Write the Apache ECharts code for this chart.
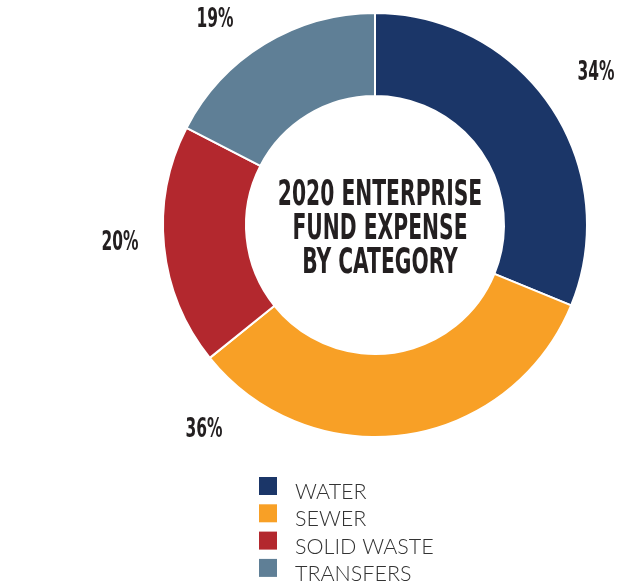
<!DOCTYPE html>
<html>
<head>
<meta charset="utf-8">
<script src="https://cdn.jsdelivr.net/npm/echarts@6/dist/echarts.min.js"></script>
<style>
  html, body { margin: 0; padding: 0; background: #ffffff; }
  #chart { width: 625px; height: 582px; }
</style>
</head>
<body>
<div id="chart"></div>
<script>
// Expense categories and their shares (percent)
const categories = ['WATER', 'SEWER', 'SOLID WASTE', 'TRANSFERS'];
const shares = [34, 36, 20, 19];
const colors = ['#1b3668', '#f8a026', '#b3282e', '#5f7f96'];

// Where each percent label sits around the ring
const labelSpots = [[596, 73], [204, 430], [120, 243], [215, 20]];

const titleLines = ['2020 ENTERPRISE', 'FUND EXPENSE', 'BY CATEGORY'];

const chart = echarts.init(document.getElementById('chart'), null, { renderer: 'canvas' });

const condensed = '"DejaVu Sans Condensed", "Liberation Sans Narrow", sans-serif';
const ink = '#231f20';

// Tall, narrow lettering: condensed bold squeezed horizontally
const squeezedText = (text, x, y, size, sx) => ({
  type: 'text',
  x, y,
  scaleX: sx,
  silent: true,
  style: {
    text,
    fontFamily: condensed,
    fontWeight: 'bold',
    fontSize: size,
    fill: ink,
    align: 'center',
    verticalAlign: 'middle'
  }
});

const titleGraphics = titleLines.map((line, i) => squeezedText(line, 380, 196 + i * 34.2, 35, 0.645));
const percentGraphics = shares.map((v, i) => squeezedText(v + '%', labelSpots[i][0], labelSpots[i][1], 26, 0.66));

// Legend swatch: an 18px square at the top of an 18x30 box,
// so each label (centred in the box) rides a little below its swatch
const swatch = 'path://M0,0H18V18H0Z M0,30';

chart.setOption({
  animation: false,
  backgroundColor: '#ffffff',
  legend: {
    orient: 'vertical',
    left: 259,
    top: 477,
    height: 130,
    padding: 0,
    itemWidth: 18,
    itemHeight: 30,
    itemGap: -2.7,
    icon: swatch,
    itemStyle: { borderWidth: 0 },
    selectedMode: false,
    data: categories,
    textStyle: {
      fontFamily: 'Lato, "Open Sans", sans-serif',
      fontWeight: 300,
      fontSize: 21.5,
      color: '#333333',
      padding: [0, 0, 0, 13]
    }
  },
  graphic: titleGraphics.concat(percentGraphics),
  series: [{
    type: 'pie',
    center: [375, 225],
    radius: [129, 212],
    startAngle: 90,
    clockwise: true,
    itemStyle: { borderColor: '#ffffff', borderWidth: 2 },
    label: { show: false },
    labelLine: { show: false },
    emphasis: { disabled: true },
    data: categories.map((name, i) => ({
      name,
      value: shares[i],
      itemStyle: { color: colors[i] }
    }))
  }]
});
</script>
</body>
</html>
